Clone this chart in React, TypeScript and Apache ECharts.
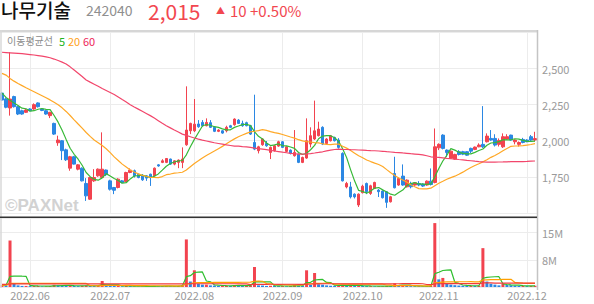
import React, { useEffect, useRef } from "react";
import * as echarts from "echarts";

const startDate = "2022-05-23";
const endDate = "2022-12-05";
const holidays = ["2022-06-01", "2022-06-06", "2022-08-15", "2022-09-09", "2022-09-12", "2022-10-03", "2022-10-10"];

const opens = [
  2330, 2290, 2227, 2306, 2236, 2208, 2197, 2220, 2220, 2262,
  2220, 2208, 2174, 2120, 1986, 2000, 1937, 1810, 1889, 1803,
  1810, 1704, 1595, 1722, 1757, 1745, 1797, 1722, 1676, 1676,
  1722, 1718, 1780, 1792, 1768, 1757, 1757, 1768, 1757, 1833,
  1850, 1850, 1873, 1838, 1850, 1850, 1972, 2069, 2069, 2116,
  2127, 2104, 2125, 2093, 2065, 2069, 2069, 2104, 2111, 2143,
  2120, 2125, 2104, 1988, 1931, 1972, 1981, 1919, 1931, 1963,
  1993, 1926, 1935, 1896, 1907, 1850, 1880, 1977, 2012, 2035,
  2093, 1981, 2000, 2023, 2005, 1912, 1680, 1680, 1630, 1555,
  1640, 1704, 1635, 1669, 1658, 1651, 1647, 1577, 1773, 1693,
  1755, 1681, 1704, 1693, 1704, 1700, 1693, 1720, 1711, 1951,
  2039, 1935, 1878, 1873, 1924, 1924, 1924, 1947, 1940, 1958,
  1975, 1993, 2016, 2016, 1975, 1958, 2012, 2039, 1993, 1975,
  2009, 2005, 2028, 2005,
];
const closes = [
  2282, 2232, 2289, 2236, 2185, 2185, 2213, 2208, 2250, 2236,
  2210, 2185, 2197, 2046, 2005, 1931, 1868, 1889, 1838, 1833,
  1722, 1618, 1745, 1745, 1803, 1803, 1765, 1664, 1657, 1734,
  1711, 1780, 1796, 1757, 1745, 1729, 1741, 1745, 1810, 1825,
  1861, 1877, 1838, 1861, 1866, 1873, 2074, 2120, 2115, 2097,
  2104, 2127, 2093, 2065, 2074, 2053, 2093, 2093, 2150, 2120,
  2104, 2104, 2046, 1942, 1958, 2012, 1965, 1954, 1965, 1993,
  1954, 1958, 1912, 1919, 1850, 1884, 2000, 2035, 2069, 2081,
  1977, 2012, 2035, 2000, 1954, 1722, 1704, 1611, 1611, 1630,
  1685, 1647, 1688, 1711, 1647, 1605, 1573, 1612, 1674, 1739,
  1693, 1727, 1681, 1709, 1693, 1686, 1720, 1697, 1958, 1975,
  1947, 1919, 1928, 1905, 1905, 1907, 1900, 1928, 1956, 1970,
  1958, 2032, 2005, 1970, 2002, 2028, 2028, 2005, 2005, 1988,
  1988, 1993, 2005, 2015,
];
const lows = [
  2275, 2225, 2174, 2230, 2178, 2180, 2192, 2203, 2215, 2230,
  2205, 2180, 2157, 2040, 1965, 1866, 1860, 1792, 1835, 1795,
  1718, 1583, 1590, 1715, 1750, 1740, 1755, 1655, 1630, 1670,
  1705, 1712, 1775, 1745, 1740, 1722, 1722, 1687, 1752, 1820,
  1845, 1845, 1832, 1830, 1810, 1810, 1965, 2046, 2060, 2090,
  2097, 2100, 2088, 2060, 2060, 2048, 2058, 2088, 2104, 2116,
  2097, 2100, 2040, 1935, 1912, 1965, 1958, 1873, 1925, 1958,
  1950, 1920, 1905, 1890, 1845, 1845, 1875, 1954, 2005, 2030,
  1970, 1975, 1995, 1995, 1945, 1718, 1670, 1600, 1600, 1541,
  1635, 1630, 1625, 1665, 1610, 1600, 1535, 1572, 1670, 1688,
  1688, 1676, 1670, 1688, 1685, 1680, 1688, 1690, 1705, 1935,
  1940, 1889, 1873, 1868, 1898, 1900, 1895, 1915, 1935, 1955,
  1950, 1988, 2000, 1960, 1960, 1950, 2008, 2000, 1975, 1960,
  1982, 1990, 1998, 1995,
];
const highs = [
  2336, 2300, 2613, 2312, 2240, 2215, 2220, 2225, 2259, 2266,
  2226, 2212, 2200, 2125, 2035, 2005, 1945, 1895, 1895, 1838,
  1815, 1741, 1750, 1803, 1808, 2058, 1800, 1730, 1680, 1740,
  1728, 1785, 1808, 1800, 1772, 1768, 1762, 1772, 1815, 1838,
  1872, 1880, 1876, 1865, 1870, 1954, 2377, 2125, 2289, 2143,
  2143, 2155, 2143, 2100, 2080, 2074, 2104, 2110, 2155, 2150,
  2139, 2132, 2110, 2319, 1965, 2016, 1998, 1960, 1970, 2000,
  1998, 1963, 1940, 2074, 1912, 1890, 2155, 2093, 2278, 2132,
  2100, 2018, 2040, 2028, 2018, 1920, 1715, 1715, 1635, 1635,
  1695, 1710, 1695, 1716, 1665, 1655, 1650, 1618, 1889, 1745,
  1836, 1732, 1716, 1714, 1720, 1705, 1725, 1808, 2085, 1982,
  2045, 1940, 1932, 1910, 1935, 1930, 1928, 1952, 1960, 1982,
  2240, 2051, 2074, 2045, 2016, 2051, 2045, 2042, 2010, 1995,
  2020, 2010, 2040, 2062,
];
// volume, millions of shares
const volumes = [
  0.5, 0.45, 12.8, 0.85, 0.45, 0.3, 0.3, 0.25, 0.3, 0.3,
  0.2, 0.2, 0.25, 0.6, 0.5, 0.4, 0.35, 0.4, 0.3, 0.25,
  0.35, 0.45, 0.4, 0.3, 0.35, 1.65, 0.4, 0.35, 0.3, 0.3,
  0.2, 0.3, 0.25, 0.2, 0.15, 0.15, 0.15, 0.2, 0.3, 0.2,
  0.2, 0.25, 0.2, 0.2, 0.25, 0.5, 13.1, 1.5, 4.6, 0.85,
  0.65, 0.65, 0.45, 0.4, 0.3, 0.3, 0.35, 0.3, 0.55, 0.4,
  0.3, 0.3, 0.45, 5.5, 0.45, 0.4, 0.3, 0.35, 0.3, 0.25,
  0.25, 0.2, 0.25, 0.6, 0.35, 0.3, 4.6, 0.55, 3.85, 0.75,
  0.65, 0.45, 0.35, 0.3, 0.35, 0.6, 0.4, 0.45, 0.3, 0.35,
  0.3, 0.25, 0.25, 0.2, 0.2, 0.2, 0.3, 0.25, 1.0, 0.4,
  0.5, 0.3, 0.25, 0.2, 0.2, 0.15, 0.2, 0.3, 17.6, 2.1,
  2.5, 0.85, 0.65, 0.5, 0.4, 0.35, 0.3, 0.35, 0.3, 0.35,
  10.7, 1.5, 0.9, 0.65, 0.45, 0.9, 0.55, 0.45, 0.35, 0.3,
  0.3, 0.25, 0.3, 0.35,
];

// moving-average values before a full window exists
const ma5Head = [2330, 2300, 2280, 2262];
const ma20Head = [2467, 2455, 2432, 2413, 2397, 2382, 2367, 2353, 2340, 2326, 2312, 2298, 2283, 2266, 2249, 2228, 2203, 2175, 2145];
const ma60Head = [
  2613, 2611, 2609, 2607, 2605, 2603, 2600, 2597, 2594, 2590,
  2586, 2581, 2575, 2566, 2556, 2545, 2532, 2512, 2490, 2468,
  2445, 2421, 2406, 2392, 2378, 2362, 2348, 2334, 2320, 2303,
  2285, 2268, 2250, 2234, 2219, 2204, 2189, 2174, 2157, 2139,
  2121, 2104, 2089, 2074, 2060, 2046, 2037, 2028, 2019, 2011,
  2004, 1998, 1992, 1986, 1981, 1976, 1971, 1967, 1963,
];
const volMa5Head = [0.5, 0.5, 2.9, 3.0];
const volMa20Head = [0.5, 0.5, 1.0, 1.0, 1.0, 1.0, 1.0, 1.0, 1.0, 1.0, 1.0, 1.0, 1.0, 1.0, 1.0, 1.0, 1.0, 1.0, 1.0];
const volMa60Head = [
  0.75, 0.75, 0.85, 0.85, 0.85, 0.85, 0.85, 0.85, 0.85, 0.85,
  0.85, 0.85, 0.85, 0.85, 0.85, 0.85, 0.85, 0.85, 0.85, 0.85,
  0.85, 0.85, 0.85, 0.85, 0.85, 0.85, 0.85, 0.85, 0.85, 0.85,
  0.85, 0.85, 0.85, 0.85, 0.85, 0.85, 0.85, 0.85, 0.85, 0.85,
  0.85, 0.85, 0.85, 0.85, 0.85, 0.85, 0.9, 0.9, 0.9, 0.9,
  0.9, 0.9, 0.9, 0.9, 0.9, 0.9, 0.9, 0.9, 0.9,
];

const priceLabelValues = [1750, 2000, 2250, 2500];

const RED = "#f2434f";
const BLUE = "#2b87e3";
const GREEN = "#37b937";
const ORANGE = "#ffa826";
const PINK = "#f2466b";
const GRID = "#ececec";
const FONT = "'Noto Sans CJK KR', 'Noto Sans', sans-serif";

function tradingDays(start: string, end: string, off: string[]): string[] {
  const out: string[] = [];
  const d = new Date(start + "T00:00:00Z");
  const e = new Date(end + "T00:00:00Z");
  while (d <= e) {
    const dow = d.getUTCDay();
    const s = d.toISOString().slice(0, 10);
    if (dow !== 0 && dow !== 6 && !off.includes(s)) out.push(s);
    d.setUTCDate(d.getUTCDate() + 1);
  }
  return out;
}

function movingAverage(values: number[], n: number, head: number[]): number[] {
  return values.map((_, i) => {
    if (i < n - 1) return head[i];
    let s = 0;
    for (let k = i - n + 1; k <= i; k++) s += values[k];
    return +(s / n).toFixed(3);
  });
}

function buildOption() {
  const dates = tradingDays(startDate, endDate, holidays);
  const isMonthStart = (i: number) => i > 0 && dates[i].slice(5, 7) !== dates[i - 1].slice(5, 7);

  const ma5 = movingAverage(closes, 5, ma5Head);
  const ma20 = movingAverage(closes, 20, ma20Head);
  const ma60 = movingAverage(closes, 60, ma60Head);
  const vma5 = movingAverage(volumes, 5, volMa5Head);
  const vma20 = movingAverage(volumes, 20, volMa20Head);
  const vma60 = movingAverage(volumes, 60, volMa60Head);

  const candles = opens.map((o, i) => [o, closes[i], lows[i], highs[i]]);
  const volBars = volumes.map((v, i) => ({
    value: v,
    itemStyle: { color: i === 0 || v >= volumes[i - 1] ? RED : BLUE },
  }));

  const xBase = {
    type: "category" as const,
    data: dates,
    boundaryGap: true,
    axisLine: { show: false },
    axisTick: { show: false },
    splitLine: {
      show: true,
      interval: (i: number) => isMonthStart(i),
      alignWithLabel: true,
      lineStyle: { color: GRID, width: 1 },
    },
  };

  const line = (name: string, data: number[], color: string, xi: number) => ({
    name,
    type: "line",
    xAxisIndex: xi,
    yAxisIndex: xi,
    data,
    symbol: "none",
    silent: true,
    lineStyle: { color, width: 1.2 },
    z: 3,
  });

  return {
    animation: false,
    textStyle: { fontFamily: FONT },
    grid: [
      { left: 0, width: 537, top: 32.5, height: 180.4 },
      { left: 0, width: 537, top: 218, height: 69 },
    ],
    xAxis: [
      { ...xBase, gridIndex: 0, axisLabel: { show: false } },
      {
        ...xBase,
        gridIndex: 1,
        axisLabel: {
          show: true,
          interval: (i: number) => isMonthStart(i),
          formatter: (v: string) => v.slice(0, 7).replace("-", "."),
          color: "#9a9a9a",
          fontSize: 11,
          margin: 2,
          fontFamily: FONT,
        },
      },
    ],
    yAxis: [
      {
        type: "value",
        gridIndex: 0,
        position: "right",
        min: 1500,
        max: 2750,
        interval: 250,
        axisLine: { show: false },
        axisTick: { show: false },
        splitLine: { lineStyle: { color: GRID, width: 1 } },
        axisLabel: {
          color: "#9a9a9a",
          fontSize: 11,
          margin: 5,
          padding: [4, 0, 0, 0],
          fontFamily: FONT,
          formatter: (v: number) => (priceLabelValues.includes(v) ? v.toLocaleString("en-US") : ""),
        },
      },
      {
        type: "value",
        gridIndex: 1,
        position: "right",
        min: 0,
        max: 19,
        interval: 7.5,
        axisLine: { show: false },
        axisTick: { show: false },
        splitLine: { lineStyle: { color: GRID, width: 1 } },
        axisLabel: {
          color: "#9a9a9a",
          fontSize: 11,
          margin: 5,
          padding: [4, 0, 0, 0],
          fontFamily: FONT,
          formatter: (v: number) => (v > 0 && v < 18 ? Math.round(v) + "M" : ""),
        },
      },
    ],
    series: [
      {
        type: "candlestick",
        xAxisIndex: 0,
        yAxisIndex: 0,
        data: candles,
        barWidth: 3,
        silent: true,
        itemStyle: { color: RED, color0: BLUE, borderColor: RED, borderColor0: BLUE, borderWidth: 1 },
        z: 2,
      },
      line("MA5", ma5, GREEN, 0),
      line("MA20", ma20, ORANGE, 0),
      line("MA60", ma60, PINK, 0),
      {
        type: "bar",
        xAxisIndex: 1,
        yAxisIndex: 1,
        data: volBars,
        barWidth: 3,
        silent: true,
        z: 2,
      },
      line("VMA5", vma5, "#2fbf2f", 1),
      line("VMA20", vma20, "#ffa000", 1),
      line("VMA60", vma60, "#f23a3a", 1),
    ],
    graphic: [
      // frame
      { type: "line", shape: { x1: 0, y1: 31, x2: 538, y2: 31 }, style: { stroke: "#d6d6d6", lineWidth: 2 }, z: 10, silent: true },
      { type: "line", shape: { x1: 1, y1: 30, x2: 1, y2: 288 }, style: { stroke: "#d9d9d9", lineWidth: 1.5 }, z: 10, silent: true },
      { type: "line", shape: { x1: 537.5, y1: 30, x2: 537.5, y2: 290 }, style: { stroke: "#c4c4c4", lineWidth: 1.5 }, z: 10, silent: true },
      { type: "line", shape: { x1: 0, y1: 217.3, x2: 537, y2: 217.3 }, style: { stroke: "#333333", lineWidth: 1.4 }, z: 10, silent: true },
      // header
      { type: "text", left: 1, top: 0, style: { text: "나무기술", font: `500 19px ${FONT}`, lineHeight: 19, fill: "#111111" }, z: 10 },
      { type: "text", left: 86, top: 3, style: { text: "242040", font: `14px ${FONT}`, lineHeight: 14, fill: "#8f8f8f" }, z: 10 },
      { type: "text", left: 148, top: 0, style: { text: "2,015", font: `21px ${FONT}`, lineHeight: 21, fill: "#f2474f" }, z: 10 },
      { type: "text", left: 216, top: 6, style: { text: "▲", font: `9px ${FONT}`, lineHeight: 9, fill: "#f2474f" }, z: 10 },
      { type: "text", left: 230, top: 3, style: { text: "10 +0.50%", font: `15px ${FONT}`, lineHeight: 15, fill: "#f2474f" }, z: 10 },
      // legend
      { type: "text", left: 7, top: 35, style: { text: "이동평균선", font: `10px ${FONT}`, lineHeight: 11, fill: "#8c8c8c" }, z: 10 },
      { type: "text", left: 59, top: 35, style: { text: "5", font: `11px ${FONT}`, lineHeight: 11, fill: "#22b422" }, z: 10 },
      { type: "text", left: 68, top: 35, style: { text: "20", font: `11px ${FONT}`, lineHeight: 11, fill: "#ffa11a" }, z: 10 },
      { type: "text", left: 83, top: 35, style: { text: "60", font: `11px ${FONT}`, lineHeight: 11, fill: "#ee1f5a" }, z: 10 },
      // watermark
      { type: "text", left: 5, top: 197, style: { text: "©PAXNet", font: `bold 17px 'Liberation Sans', Arial, sans-serif`, lineHeight: 17, fill: "#d2d2d2" }, z: 1 },
    ],
  };
}

export default function App() {
  const ref = useRef<HTMLDivElement>(null);
  useEffect(() => {
    document.body.style.margin = "0";
    if (!ref.current) return;
    const chart = echarts.init(ref.current, null, { renderer: "svg" });
    chart.setOption(buildOption() as any);
    return () => chart.dispose();
  }, []);
  return <div ref={ref} style={{ width: 594, height: 304 }} />;
}
